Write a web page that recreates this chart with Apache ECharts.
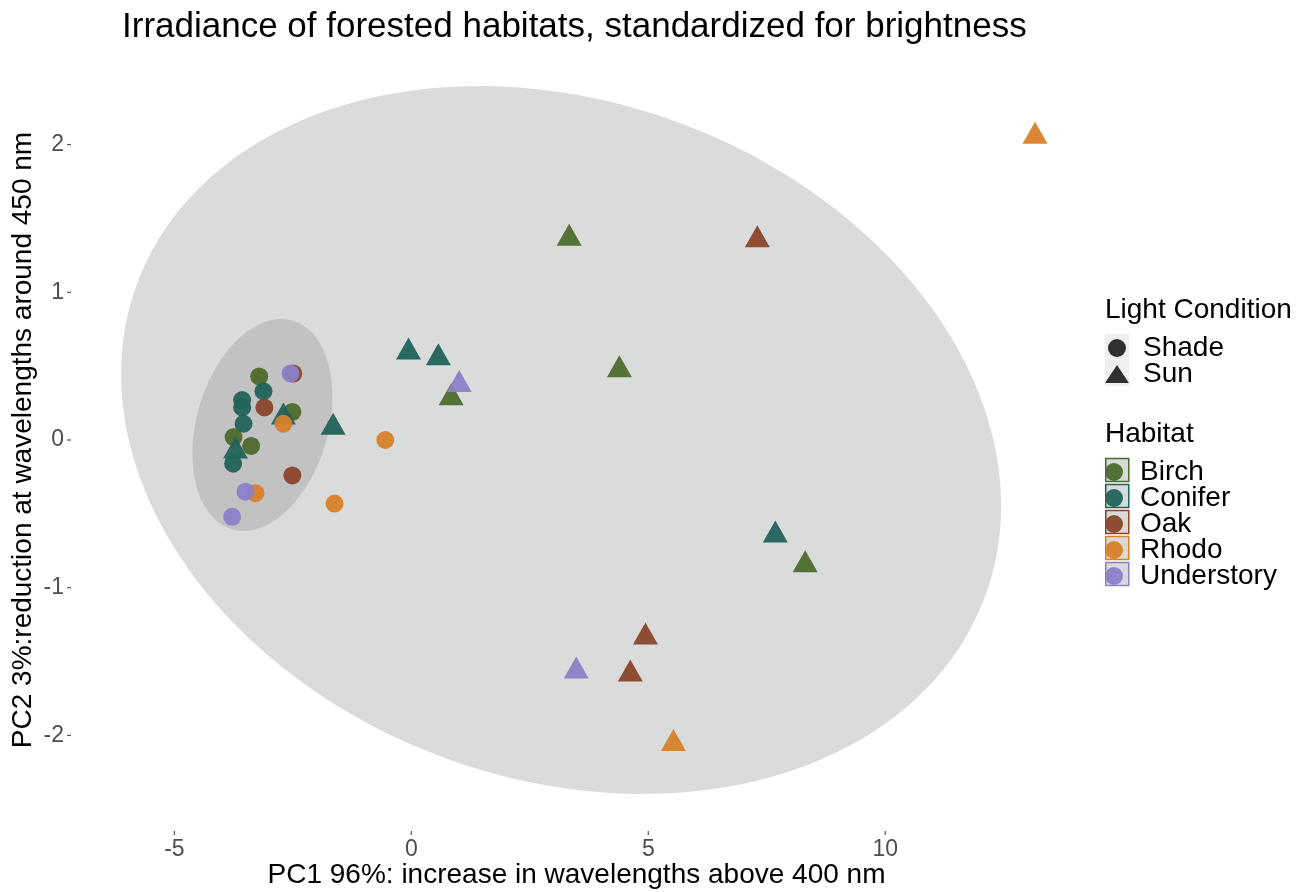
<!DOCTYPE html>
<html>
<head>
<meta charset="utf-8">
<script src="https://cdn.jsdelivr.net/npm/echarts@6/dist/echarts.min.js"></script>
<style>
html,body{margin:0;padding:0;background:#fff;}
#chart{width:1304px;height:892px;}
</style>
</head>
<body>
<div id="chart"></div>
<script>
// ---------- DATA ----------
const habitats = ['Birch', 'Conifer', 'Oak', 'Rhodo', 'Understory'];
const lightConditions = ['Shade', 'Sun'];
const xTicks = [-5, 0, 5, 10];
const yTicks = [-2, -1, 0, 1, 2];

// [PC1, PC2]
const birchShade = [[-3.21, 0.43], [-2.51, 0.19], [-3.75, 0.02], [-3.38, -0.04]];
const birchSun = [[3.33, 1.39], [4.39, 0.50], [0.84, 0.31], [8.31, -0.82]];
const coniferShade = [[-3.12, 0.33], [-3.57, 0.27], [-3.57, 0.22], [-3.54, 0.11], [-3.76, -0.16]];
const coniferSun = [[-0.06, 0.62], [0.57, 0.58], [-1.65, 0.11], [7.68, -0.62], [-2.70, 0.18], [-3.71, -0.05]];
const oakShade = [[-2.49, 0.45], [-3.10, 0.22], [-2.51, -0.24]];
const oakSun = [[7.30, 1.38], [4.94, -1.31], [4.62, -1.56]];
const rhodoShade = [[-2.70, 0.11], [-3.29, -0.36], [-1.62, -0.43], [-0.55, 0.00]];
const rhodoSun = [[13.16, 2.08], [5.53, -2.03]];
const understoryShade = [[-2.55, 0.45], [-3.50, -0.35], [-3.78, -0.52]];
const understorySun = [[1.01, 0.40], [3.48, -1.54]];

// confidence ellipses by light condition: [centerX, centerY, varX, varY, covXY]
const ellipseSun = [3.16, 0.0, 86.2, 5.74, -4.141];
const ellipseShade = [-3.143, 0.1015, 2.181, 0.5147, 0.2856];

// ---------- STYLE ----------
const habitatColors = ['#4d6a2c', '#21625a', '#8a4529', '#d87f2a', '#8b81c7'];
const ellipseColors = ['#c2c2c2', '#dadcdc'];
const FONT = '"Liberation Sans", Arial, sans-serif';
const X_MIN = -7.16, X_MAX = 14.13, Y_MIN = -2.64, Y_MAX = 2.64;

const shadeArrays = [birchShade, coniferShade, oakShade, rhodoShade, understoryShade];
const sunArrays = [birchSun, coniferSun, oakSun, rhodoSun, understorySun];

const habitatSeries = habitats.map((h, i) => ({
  name: h,
  type: 'scatter',
  z: 3,
  itemStyle: { color: habitatColors[i], opacity: 0.95 },
  emphasis: { disabled: true },
  data: [
    ...shadeArrays[i].map(p => ({ value: p, symbol: 'circle', symbolSize: 18 })),
    ...sunArrays[i].map(p => ({ value: p, symbol: 'triangle', symbolSize: [25, 22] }))
  ]
}));

const ellipseList = [ellipseSun, ellipseShade];
const ellipseSeries = {
  type: 'custom',
  z: 1,
  silent: true,
  data: [[ellipseSun[0], ellipseSun[1]], [ellipseShade[0], ellipseShade[1]]],
  renderItem: function (params, api) {
    const e = ellipseList[params.dataIndex];
    const a = Math.sqrt(e[2]);
    const b = e[4] / a;
    const c = Math.sqrt(e[3] - b * b);
    const pts = [];
    const N = 180;
    for (let k = 0; k < N; k++) {
      const t = 2 * Math.PI * k / N;
      pts.push(api.coord([e[0] + a * Math.cos(t), e[1] + b * Math.cos(t) + c * Math.sin(t)]));
    }
    return {
      type: 'polygon',
      shape: { points: pts },
      style: { fill: params.dataIndex === 0 ? ellipseColors[1] : ellipseColors[0] }
    };
  }
};

// axis tick marks drawn outside the panel via the axes' scales
const tickItems = xTicks.map(v => [v, Y_MIN, 0]).concat(yTicks.map(v => [X_MIN, v, 1]));
const tickSeries = {
  type: 'custom',
  z: 2,
  silent: true,
  clip: false,
  data: tickItems,
  renderItem: function (params, api) {
    const p = api.coord([api.value(0), api.value(1)]);
    const isX = api.value(2) === 0;
    return {
      type: 'line',
      shape: isX ? { x1: p[0], y1: p[1] + 1, x2: p[0], y2: p[1] + 5 }
                 : { x1: p[0] - 1, y1: p[1], x2: p[0] - 5, y2: p[1] },
      style: { stroke: '#555', lineWidth: 1.2 }
    };
  }
};

const dummySeries = lightConditions.map(n => ({
  name: n, type: 'scatter', data: [], itemStyle: { color: '#000' }
}));

const LEG_X = 1105, ROW = 26, HAB_TOP = 458, LC_TOP = 334;

const graphics = [
  { type: 'text', left: LEG_X, top: 296, z: 10,
    style: { text: 'Light Condition', font: '28px ' + FONT, fill: '#000' } },
  { type: 'text', left: LEG_X, top: 420, z: 10,
    style: { text: 'Habitat', font: '28px ' + FONT, fill: '#000' } },
  { type: 'rect', shape: { x: LEG_X, y: LC_TOP, width: 24, height: ROW * 2 }, z: 0,
    style: { fill: '#efefef' } }
];
habitats.forEach((h, i) => {
  graphics.push({
    type: 'rect', z: 0,
    shape: { x: LEG_X + 0.75, y: HAB_TOP + ROW * i + 0.5, width: 23, height: 23 },
    style: { fill: '#d9d9d9', stroke: habitatColors[i], lineWidth: 1.5 }
  });
});

const legendText = {
  fontSize: 28, color: '#000', lineHeight: ROW, fontFamily: FONT,
  rich: { t: { fontSize: 28, color: '#000', lineHeight: ROW, fontFamily: FONT, padding: [0, 0, 0, 9] } }
};

const option = {
  backgroundColor: '#ffffff',
  animation: false,
  textStyle: { fontFamily: FONT },
  title: {
    text: 'Irradiance of forested habitats, standardized for brightness',
    left: 122, top: 10, padding: 0,
    textStyle: { fontSize: 35, fontWeight: 'normal', color: '#000', fontFamily: FONT }
  },
  grid: { left: 72, top: 50, width: 1009, height: 780, containLabel: false, outerBoundsMode: 'none' },
  xAxis: {
    type: 'value', min: X_MIN, max: X_MAX,
    splitLine: { show: false },
    axisLine: { show: false, onZero: false },
    axisTick: { show: false },
    axisLabel: { customValues: xTicks, fontSize: 23, color: '#4d4d4d', margin: 8, fontFamily: FONT },
    name: 'PC1 96%: increase in wavelengths above 400 nm',
    nameLocation: 'middle', nameGap: 31, nameMoveOverlap: false,
    nameTextStyle: { fontSize: 28, color: '#000', fontFamily: FONT }
  },
  yAxis: {
    type: 'value', min: Y_MIN, max: Y_MAX,
    splitLine: { show: false },
    axisLine: { show: false, onZero: false },
    axisTick: { show: false },
    axisLabel: { customValues: yTicks, fontSize: 23, color: '#4d4d4d', margin: 8, fontFamily: FONT },
    name: 'PC2 3%:reduction at wavelengths around 450 nm',
    nameLocation: 'middle', nameGap: 35, nameRotate: 90, nameMoveOverlap: false,
    nameTextStyle: { fontSize: 28, color: '#000', fontFamily: FONT }
  },
  legend: [
    {
      data: [{ name: 'Shade', icon: 'circle' }, { name: 'Sun', icon: 'triangle' }],
      orient: 'vertical', left: LEG_X, top: LC_TOP, padding: 0,
      itemWidth: 24, itemHeight: 18, itemGap: -2, selectedMode: false,
      formatter: '{t|{name}}',
      textStyle: legendText,
      z: 5
    },
    {
      data: habitats.map(h => ({ name: h, icon: 'circle' })),
      orient: 'vertical', left: LEG_X, top: HAB_TOP, padding: 0,
      itemWidth: 24, itemHeight: 18, itemGap: -2, selectedMode: false,
      formatter: '{t|{name}}',
      textStyle: legendText,
      z: 5
    }
  ],
  graphic: graphics,
  series: [ellipseSeries, tickSeries, ...habitatSeries, ...dummySeries]
};

const chart = echarts.init(document.getElementById('chart'), null, { renderer: 'canvas' });
chart.setOption(option);
</script>
</body>
</html>
